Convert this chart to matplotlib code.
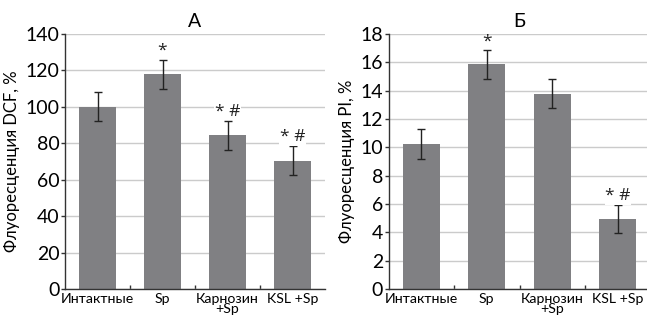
import matplotlib
matplotlib.use("Agg")
import matplotlib.pyplot as plt
import numpy as np

plt.rcParams['font.family'] = ['Lato', 'DejaVu Sans']

categories = ["Интактные", "Sp", "Карнозин\n+Sp", "KSL +Sp"]

dcf_values = [100, 118, 84.5, 70.5]
dcf_errors = [8, 8, 8, 8]
dcf_marks = ["", "*", "* #", "* #"]

pi_values = [10.25, 15.85, 13.8, 4.95]
pi_errors = [1.05, 1.0, 1.05, 1.0]
pi_marks = ["", "*", "", "* #"]

bar_color = "#808083"
grid_color = "#cbcbcb"

fig = plt.figure(figsize=(6.47, 3.23), dpi=100)
ax1 = fig.add_axes([65/647, 34/323, 260/647, 255/323])
ax2 = fig.add_axes([388.5/647, 34/323, 262/647, 255/323])


def draw(ax, vals, errs, marks, ymax, ystep, ylabel, title, mark_off):
    x = np.arange(len(categories))
    ax.set_axisbelow(True)
    ax.bar(x, vals, width=0.56, color=bar_color, zorder=2)
    ax.errorbar(x, vals, yerr=errs, fmt='none', ecolor='#222222',
                elinewidth=1.0, capsize=3, capthick=1.0, zorder=3)
    for xi, v, e, m in zip(x, vals, errs, marks):
        if m:
            ax.text(xi, v + e + mark_off, m, ha='center', va='bottom',
                    fontsize=12.5, color='#222222', zorder=4,
                    family=['Open Sans', 'DejaVu Sans'],
                    bbox=dict(facecolor='white', edgecolor='none', pad=0.3) if '#' in m else None)
    ax.set_xlim(-0.5, len(categories) - 0.5)
    ax.set_ylim(0, ymax)
    ax.set_yticks(np.arange(0, ymax + 0.001, ystep))
    ax.yaxis.grid(True, color=grid_color, linewidth=1.0)
    ax.set_xticks(x)
    ax.set_xticklabels(categories, fontsize=10.2, linespacing=0.75)
    ax.tick_params(axis='x', length=0, pad=3)
    ax.set_xticks(np.arange(0.5, len(categories) - 0.5, 1), minor=True)
    ax.tick_params(axis='x', which='minor', direction='in', length=3,
                   color='#333333', width=1)
    ax.tick_params(axis='y', labelsize=14, length=3, color='#333333',
                   width=1, pad=1)
    for s in ['top', 'right']:
        ax.spines[s].set_visible(False)
    for s in ['left', 'bottom']:
        ax.spines[s].set_color('#333333')
        ax.spines[s].set_linewidth(1.0)
    ax.set_ylabel(ylabel, fontsize=12, labelpad=4)
    ax.set_title(title, fontsize=14, pad=5)


draw(ax1, dcf_values, dcf_errors, dcf_marks, 140, 20,
     "Флуоресценция DCF, %", "А", 0.3)
draw(ax2, pi_values, pi_errors, pi_marks, 18, 2,
     "Флуоресценция PI, %", "Б", 0.03)

fig.savefig("out.png", dpi=100)
